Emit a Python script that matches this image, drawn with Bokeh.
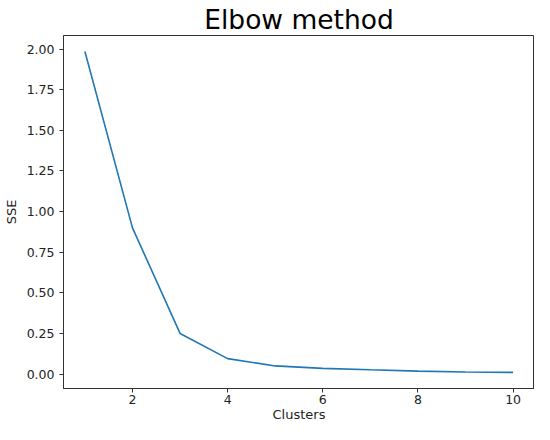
from bokeh.plotting import figure
from bokeh.models import Range1d, FixedTicker, PrintfTickFormatter
from bokeh.embed import file_html
from bokeh.resources import INLINE

clusters = [1, 2, 3, 4, 5, 6, 7, 8, 9, 10]
sse = [1.985, 0.90, 0.25, 0.095, 0.05, 0.035, 0.026, 0.018, 0.013, 0.01]
x_ticks = [2, 4, 6, 8, 10]
y_ticks = [0.0, 0.25, 0.5, 0.75, 1.0, 1.25, 1.5, 1.75, 2.0]

FONT = "DejaVu Sans"

p = figure(width=534, height=424, output_backend="svg", toolbar_location=None,
           x_range=Range1d(0.55, 10.45), y_range=Range1d(-0.089, 2.084),
           title="Elbow method", min_border_left=57, min_border_right=0,
           min_border_top=33, min_border_bottom=36)

p.line(clusters, sse, line_color="#1f77b4", line_width=1.6)

p.title.text_font = FONT
p.title.text_font_size = "26.5px"
p.title.text_font_style = "normal"
p.title.align = "center"
p.title.text_color = "black"
p.title.standoff = 2

p.grid.visible = False
p.outline_line_color = "#333333"
p.outline_line_width = 1
p.outline_line_alpha = 1

for ax in (p.xaxis[0], p.yaxis[0]):
    ax.axis_line_color = "#333333"
    ax.major_tick_line_color = "#333333"
    ax.major_tick_out = 4
    ax.major_tick_in = 0
    ax.minor_tick_line_color = None
    ax.major_label_text_font = FONT
    ax.major_label_text_font_size = "12.5px"
    ax.major_label_text_color = "#222222"
    ax.axis_label_text_font = FONT
    ax.axis_label_text_font_size = "13px"
    ax.axis_label_text_font_style = "normal"
    ax.axis_label_text_color = "#222222"

p.xaxis.ticker = FixedTicker(ticks=x_ticks)
p.yaxis.ticker = FixedTicker(ticks=y_ticks)
p.yaxis.formatter = PrintfTickFormatter(format="%.2f")
p.xaxis.axis_label = "Clusters"
p.yaxis.axis_label = "SSE"
p.xaxis.major_label_standoff = 2
p.xaxis.axis_label_standoff = 0
p.yaxis.major_label_standoff = 5
p.yaxis.axis_label_standoff = 5

open("out.html", "w").write(file_html(p, INLINE))
